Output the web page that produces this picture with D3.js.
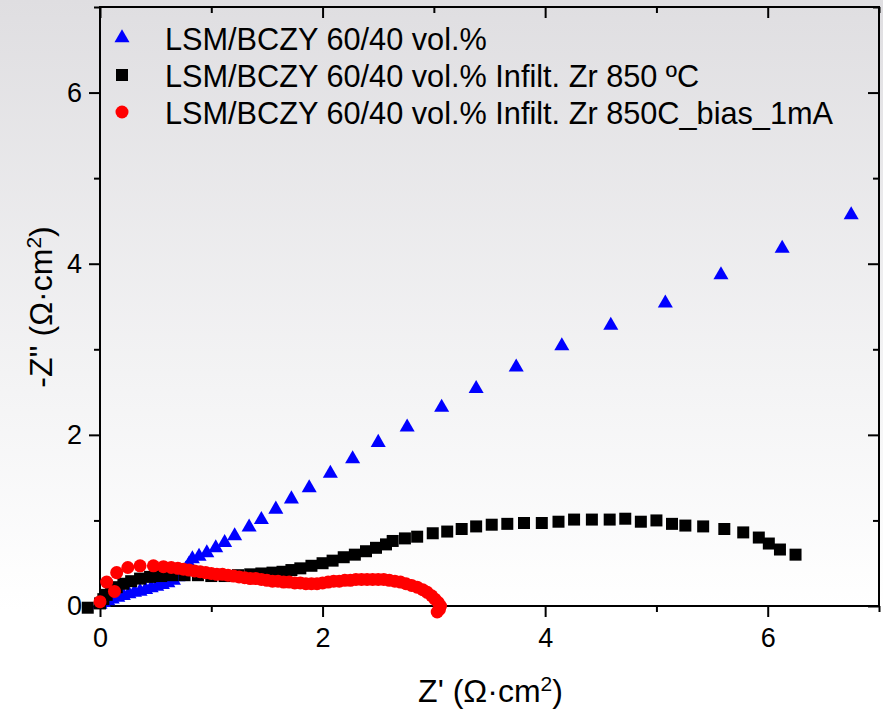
<!DOCTYPE html>
<html>
<head>
<meta charset="utf-8">
<script src="https://cdn.jsdelivr.net/npm/d3@7"></script>
<style>
  body { margin: 0; background: #fff; }
  svg { display: block; font-family: "Liberation Sans", Arial, sans-serif; }
</style>
</head>
<body>
<div id="chart"></div>
<script>
// Z' and -Z'' values (ohm·cm2)
const seriesNames = [
  'LSM/BCZY 60/40 vol.%',
  'LSM/BCZY 60/40 vol.% Infilt. Zr 850 ºC',
  'LSM/BCZY 60/40 vol.% Infilt. Zr 850C_bias_1mA'
];

const bczy = [
  [0.00, 0.02], [0.03, 0.04], [0.07, 0.06], [0.11, 0.08], [0.16, 0.10], [0.21, 0.12],
  [0.26, 0.14], [0.31, 0.16], [0.36, 0.17], [0.41, 0.19], [0.46, 0.21], [0.51, 0.23],
  [0.56, 0.25], [0.61, 0.27], [0.66, 0.30], [0.70, 0.34], [0.74, 0.38], [0.77, 0.43],
  [0.80, 0.49], [0.83, 0.55], [0.89, 0.58], [0.96, 0.62], [1.04, 0.68], [1.12, 0.74],
  [1.21, 0.82], [1.34, 0.92], [1.45, 1.01], [1.58, 1.13], [1.72, 1.25], [1.88, 1.38],
  [2.07, 1.55], [2.27, 1.72], [2.50, 1.91], [2.76, 2.09], [3.07, 2.32], [3.38, 2.54],
  [3.74, 2.79], [4.15, 3.04], [4.59, 3.28], [5.08, 3.54], [5.58, 3.87], [6.13, 4.18],
  [6.75, 4.57]
];

const infiltZr = [
  [-0.11, -0.02], [0.00, 0.03], [0.03, 0.08], [0.06, 0.13], [0.10, 0.18], [0.15, 0.22],
  [0.21, 0.26], [0.28, 0.29], [0.36, 0.32], [0.45, 0.34], [0.55, 0.35], [0.65, 0.36],
  [0.76, 0.36], [0.88, 0.36], [1.00, 0.35], [1.12, 0.35], [1.24, 0.36], [1.35, 0.37],
  [1.45, 0.38], [1.55, 0.39], [1.64, 0.40], [1.72, 0.42], [1.80, 0.44], [1.90, 0.47],
  [2.00, 0.50], [2.09, 0.53], [2.19, 0.57], [2.29, 0.60], [2.39, 0.64], [2.48, 0.68],
  [2.57, 0.72], [2.63, 0.76], [2.74, 0.79], [2.85, 0.81], [2.99, 0.85], [3.12, 0.87],
  [3.25, 0.90], [3.38, 0.93], [3.52, 0.95], [3.66, 0.96], [3.81, 0.97], [3.97, 0.97],
  [4.12, 0.985], [4.26, 1.01], [4.42, 1.01], [4.58, 1.01], [4.72, 1.02], [4.86, 0.985],
  [5.00, 1.00], [5.14, 0.96], [5.26, 0.94], [5.42, 0.93], [5.61, 0.90], [5.78, 0.86],
  [5.92, 0.80], [6.01, 0.73], [6.11, 0.66], [6.25, 0.60]
];

const biased = [
  [0.00, 0.05], [0.13, 0.17], [0.06, 0.28], [0.15, 0.39], [0.25, 0.45], [0.36, 0.47],
  [0.48, 0.47], [0.57, 0.46], [0.64, 0.45], [0.70, 0.44], [0.75, 0.43], [0.80, 0.42],
  [0.85, 0.41], [0.90, 0.40], [0.95, 0.39], [1.00, 0.38], [1.05, 0.37], [1.10, 0.37],
  [1.15, 0.36], [1.20, 0.35], [1.25, 0.34], [1.30, 0.33], [1.35, 0.32], [1.40, 0.32],
  [1.45, 0.31], [1.50, 0.30], [1.55, 0.29], [1.60, 0.29], [1.65, 0.28], [1.70, 0.28],
  [1.75, 0.27], [1.80, 0.27], [1.85, 0.26], [1.90, 0.26], [1.95, 0.26], [2.00, 0.27],
  [2.05, 0.28], [2.10, 0.29], [2.15, 0.29], [2.20, 0.30], [2.25, 0.30], [2.30, 0.31],
  [2.35, 0.31], [2.40, 0.31], [2.45, 0.31], [2.50, 0.31], [2.55, 0.31], [2.60, 0.30],
  [2.65, 0.29], [2.70, 0.28], [2.75, 0.26], [2.80, 0.24], [2.85, 0.22], [2.90, 0.19],
  [2.94, 0.16], [2.98, 0.12], [3.01, 0.08], [3.04, 0.04], [3.06, 0.00], [3.05, -0.04],
  [3.03, -0.07]
];

const majorTicks = [0, 2, 4, 6];
const minorTicks = [1, 3, 5, 7];

const width = 883;
const height = 711;
const margin = { top: 7, right: 4, bottom: 105, left: 100 };
const innerWidth = width - margin.left - margin.right;
const innerHeight = height - margin.top - margin.bottom;

const svg = d3.select('#chart')
  .append('svg')
  .attr('width', width)
  .attr('height', height);

const grad = svg.append('defs')
  .append('linearGradient')
  .attr('id', 'bg')
  .attr('x1', 0).attr('y1', 0).attr('x2', 0).attr('y2', 1);
grad.append('stop').attr('offset', '0%').attr('stop-color', '#dfdee1');
grad.append('stop').attr('offset', '55%').attr('stop-color', '#f4f4f5');
grad.append('stop').attr('offset', '86%').attr('stop-color', '#ffffff');
grad.append('stop').attr('offset', '100%').attr('stop-color', '#ffffff');

svg.append('rect')
  .attr('width', width)
  .attr('height', height)
  .attr('fill', 'url(#bg)');

const g = svg.append('g')
  .attr('transform', `translate(${margin.left},${margin.top})`);

const xScale = d3.scaleLinear().domain([0, 7]).range([0, innerWidth]);
const yScale = d3.scaleLinear().domain([0, 7]).range([innerHeight, 0]);

// axes: outer ticks bottom/left, inner ticks top/right
function styleAxis(sel) {
  sel.select('.domain').remove();
  sel.selectAll('line').attr('stroke', '#000').attr('stroke-width', 2);
  sel.selectAll('text').filter(function() { return !this.textContent; }).remove();
  sel.selectAll('text').attr('fill', '#000').attr('font-size', 27);
}

g.append('g')
  .attr('transform', `translate(0,${innerHeight})`)
  .call(d3.axisBottom(xScale).tickValues(majorTicks).tickSize(11).tickPadding(11).tickFormat(d3.format('d')))
  .call(styleAxis);
g.append('g')
  .attr('transform', `translate(0,${innerHeight})`)
  .call(d3.axisBottom(xScale).tickValues(minorTicks).tickSize(6).tickFormat(''))
  .call(styleAxis);
g.append('g')
  .call(d3.axisLeft(yScale).tickValues(majorTicks).tickSize(11).tickPadding(7).tickFormat(d3.format('d')))
  .call(styleAxis);
g.append('g')
  .call(d3.axisLeft(yScale).tickValues(minorTicks).tickSize(6).tickFormat(''))
  .call(styleAxis);
g.append('g')
  .call(d3.axisTop(xScale).tickValues(majorTicks).tickSize(-11).tickFormat(''))
  .call(styleAxis);
g.append('g')
  .call(d3.axisTop(xScale).tickValues(minorTicks).tickSize(-6).tickFormat(''))
  .call(styleAxis);
g.append('g')
  .attr('transform', `translate(${innerWidth},0)`)
  .call(d3.axisRight(yScale).tickValues(majorTicks).tickSize(-11).tickFormat(''))
  .call(styleAxis);
g.append('g')
  .attr('transform', `translate(${innerWidth},0)`)
  .call(d3.axisRight(yScale).tickValues(minorTicks).tickSize(-6).tickFormat(''))
  .call(styleAxis);

g.append('rect')
  .attr('width', innerWidth)
  .attr('height', innerHeight)
  .attr('fill', 'none')
  .attr('stroke', '#000')
  .attr('stroke-width', 2);

const series = [
  { name: seriesNames[0], data: bczy, color: '#0000ff', symbol: d3.symbolTriangle, size: 98 },
  { name: seriesNames[1], data: infiltZr, color: '#000000', symbol: d3.symbolSquare, size: 144 },
  { name: seriesNames[2], data: biased, color: '#ff0000', symbol: d3.symbolCircle, size: 133 }
];

series.forEach(s => {
  g.append('g')
    .selectAll('path')
    .data(s.data)
    .enter()
    .append('path')
    .attr('transform', d => `translate(${xScale(d[0])},${yScale(d[1])})`)
    .attr('d', d3.symbol().type(s.symbol).size(s.size))
    .attr('fill', s.color);
});

// legend
const legend = svg.append('g').attr('transform', 'translate(122,38)');
series.forEach((s, i) => {
  const row = legend.append('g').attr('transform', `translate(0,${i * 37})`);
  row.append('path')
    .attr('d', d3.symbol().type(s.symbol).size(s.size))
    .attr('fill', s.color);
  row.append('text')
    .attr('x', 43)
    .attr('y', 12)
    .attr('font-size', 30.7)
    .attr('fill', '#000')
    .text(s.name);
});

// axis titles
const xTitle = svg.append('text')
  .attr('x', margin.left + innerWidth / 2 + 1)
  .attr('y', 702)
  .attr('text-anchor', 'middle')
  .attr('font-size', 32)
  .attr('fill', '#000');
xTitle.append('tspan').text("Z' (Ω·cm");
xTitle.append('tspan').attr('baseline-shift', 'super').attr('font-size', 21).text('2');
xTitle.append('tspan').text(')');

const yTitle = svg.append('text')
  .attr('transform', 'translate(52,307) rotate(-90)')
  .attr('text-anchor', 'middle')
  .attr('font-size', 32)
  .attr('fill', '#000');
yTitle.append('tspan').text("-Z'' (Ω·cm");
yTitle.append('tspan').attr('baseline-shift', 'super').attr('font-size', 21).text('2');
yTitle.append('tspan').text(')');
</script>
</body>
</html>
